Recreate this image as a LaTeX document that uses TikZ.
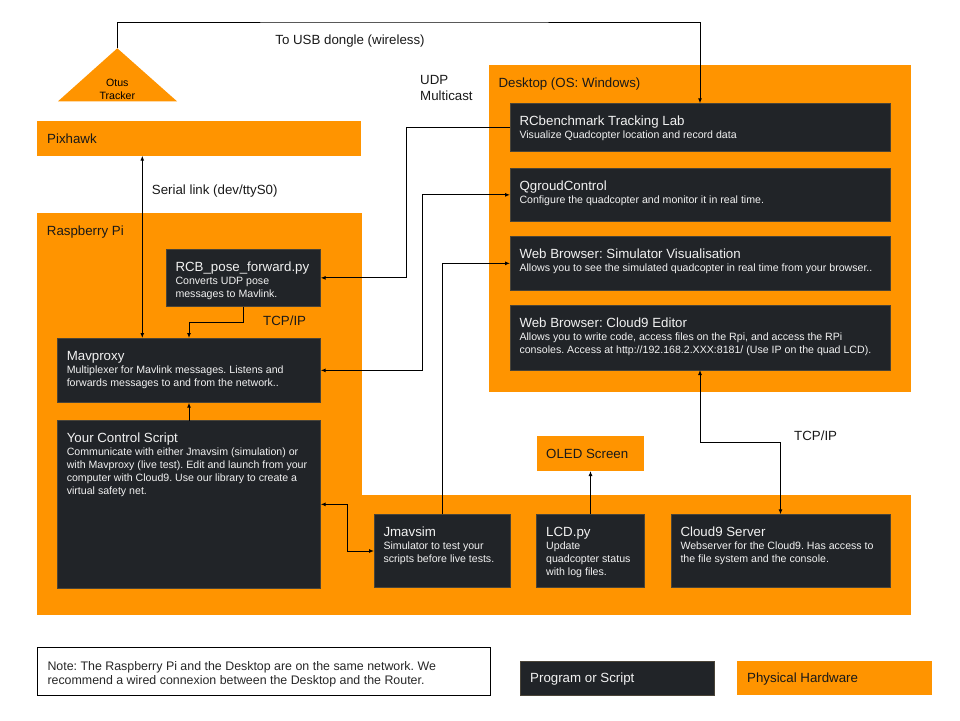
\documentclass[tikz,border=0pt]{standalone}
\usepackage{fontspec}
\setmainfont{Liberation Sans}
\usetikzlibrary{arrows.meta, calc}
\frenchspacing

\definecolor{hworange}{HTML}{FF9400}
\definecolor{progdark}{HTML}{212428}
\definecolor{progedge}{HTML}{4A4438}
\definecolor{progtext}{HTML}{F2F2F2}

\newcommand{\titlefont}{\fontsize{13.3}{13}\selectfont}
\newcommand{\descfont}{\fontsize{10.6}{13}\selectfont}
\newcommand{\lblfont}{\fontsize{13.3}{16}\selectfont}

\begin{document}
\begin{tikzpicture}[x=1pt, y=-1pt, >={Latex[length=5pt,width=4pt]},
    hw/.style={fill=hworange, inner sep=0pt, outer sep=0pt, anchor=north west},
    prog/.style={fill=progdark, draw=progedge, line width=0.5pt, inner sep=0pt, outer sep=0pt, anchor=north west},
    progtxt/.style={text=progtext, font=\descfont, align=left, inner sep=0pt, anchor=north west},
    lbl/.style={font=\lblfont, text=black!90, inner sep=0pt, anchor=base west},
    link/.style={line width=1pt}]
    \useasboundingbox (0,0) rectangle (960,720);

    % Physical hardware
    \node[hw, minimum width=422pt, minimum height=326.7pt] (desktop) at (489,65.3) {};
    \node[hw, minimum width=324.3pt, minimum height=34.7pt] (pixhawk) at (36.7,121) {};
    \node[hw, minimum width=325pt, minimum height=402pt] (rpi) at (36.7,213.3) {};
    \node[hw, minimum width=549pt, minimum height=120pt] (rpibar) at (361.7,495) {};
    \node[hw, minimum width=107pt, minimum height=35pt] (oled) at (537,436) {};
    \fill[hworange] (58,101.3) -- (117.3,48.3) -- (177,101.3) -- cycle;
    \coordinate (otus-top) at (117.3,48.3);
    \node[font=\descfont, align=center, inner sep=0pt, anchor=north] (otus) at (117.3,78.3)
        {\rule{0pt}{8pt}Otus\\Tracker};

    % Programs on the desktop
    \node[prog, minimum width=380pt, minimum height=48.4pt] (rcb) at (510,103.3) {};
    \node[prog, minimum width=380pt, minimum height=53.7pt] (qgc) at (510,168) {};
    \node[prog, minimum width=380pt, minimum height=53.3pt] (websim) at (510,236.7) {};
    \node[prog, minimum width=380pt, minimum height=65pt] (editor) at (510,305) {};

    % Programs on the Pi
    \node[prog, minimum width=154.7pt, minimum height=57.7pt] (rcbpose) at (166,249) {};
    \node[prog, minimum width=263.4pt, minimum height=64.7pt] (mavproxy) at (57.3,338) {};
    \node[prog, minimum width=263.4pt, minimum height=167.3pt] (script) at (57.3,420.7) {};
    \node[prog, minimum width=136.7pt, minimum height=73.4pt] (jmavsim) at (374,514.3) {};
    \node[prog, minimum width=107.6pt, minimum height=73.4pt] (lcd) at (536.7,514.3) {};
    \node[prog, minimum width=219pt, minimum height=73.4pt] (server) at (671,514.3) {};

    % Box texts
    \node[progtxt] (rcb-t) at ([xshift=9.3pt, yshift=-12pt]rcb.north west)
        {{\titlefont\rule{0pt}{10pt}RCbenchmark Tracking Lab}\\Visualize Quadcopter location and record data};
    \node[progtxt] (qgc-t) at ([xshift=9.3pt, yshift=-12pt]qgc.north west)
        {{\titlefont\rule{0pt}{10pt}QgroudControl}\\Configure the quadcopter and monitor it in real time.};
    \node[progtxt] (websim-t) at ([xshift=9.3pt, yshift=-12pt]websim.north west)
        {{\titlefont\rule{0pt}{10pt}Web Browser: Simulator Visualisation}\\Allows you to see the simulated quadcopter in real time from your browser..};
    \node[progtxt] (editor-t) at ([xshift=9.3pt, yshift=-12pt]editor.north west)
        {{\titlefont\rule{0pt}{10pt}Web Browser: Cloud9 Editor}\\Allows you to write code, access files on the Rpi, and access the RPi\\consoles. Access at http://192.168.2.XXX:8181/ (Use IP on the quad LCD).};
    \node[progtxt] (rcbpose-t) at ([xshift=9.3pt, yshift=-12pt]rcbpose.north west)
        {{\titlefont\rule{0pt}{10pt}RCB\_pose\_forward.py}\\Converts UDP pose\\messages to Mavlink.};
    \node[progtxt] (mavproxy-t) at ([xshift=9.3pt, yshift=-12pt]mavproxy.north west)
        {{\titlefont\rule{0pt}{10pt}Mavproxy}\\Multiplexer for Mavlink messages. Listens and\\forwards messages to and from the network..};
    \node[progtxt] (script-t) at ([xshift=9.3pt, yshift=-12pt]script.north west)
        {{\titlefont\rule{0pt}{10pt}Your Control Script}\\Communicate with either Jmavsim (simulation) or\\with Mavproxy (live test). Edit and launch from your\\computer with Cloud9. Use our library to create a\\virtual safety net.};
    \node[progtxt] (jmavsim-t) at ([xshift=9.3pt, yshift=-12pt]jmavsim.north west)
        {{\titlefont\rule{0pt}{10pt}Jmavsim}\\Simulator to test your\\scripts before live tests.};
    \node[progtxt] (lcd-t) at ([xshift=9.3pt, yshift=-12pt]lcd.north west)
        {{\titlefont\rule{0pt}{10pt}LCD.py}\\Update\\quadcopter status\\with log files.};
    \node[progtxt] (server-t) at ([xshift=9.3pt, yshift=-12pt]server.north west)
        {{\titlefont\rule{0pt}{10pt}Cloud9 Server}\\Webserver for the Cloud9. Has access to\\the file system and the console.};

    % Labels
    \node[lbl] (desktop-l) at (498.3,87.5) {Desktop (OS: Windows)};
    \node[lbl] (pixhawk-l) at (47,143) {Pixhawk};
    \node[lbl] (rpi-l) at (46.7,235.8) {Raspberry Pi};
    \node[lbl] (oled-l) at (546,458.5) {OLED Screen};
    \node[lbl, anchor=base] (usb-l) at (350,44) {To USB dongle (wireless)};
    \node[lbl, align=left, anchor=north west] (udp-l) at (420,73.8) {\rule{0pt}{10pt}UDP\\Multicast};
    \node[lbl] (serial-l) at (151.7,194) {Serial link (dev/ttyS0)};
    \node[lbl] (tcp-l) at (263,325) {TCP/IP};
    \node[lbl] (tcp2-l) at (794,440) {TCP/IP};

    % Connectors
    \coordinate (usb) at (400,22);
    \coordinate (serial) at ($(mavproxy.north)+(-46.7,0)$);
    \draw[link, ->] (otus-top) |- (usb) -| (rcb.north);
    \draw[link, <->] (serial) -- (serial |- pixhawk.south);
    \draw[link, ->] (rcb.west) -- ++(-103.3,0) |- (rcbpose.east);
    \draw[link, <->] (mavproxy.east) -- ++(102,0) |- (qgc.west);
    \draw[link, ->] (jmavsim.north) |- (websim.west);
    \draw[link, ->] (rcbpose.south) -- ++(0,15.6) -| (mavproxy.north);
    \draw[link, ->] (script.north) -- (mavproxy.south);
    \draw[link, <->] (script.east) -- ++(26.6,0) |- (jmavsim.west);
    \draw[link, ->] (lcd.north) -- (oled.south);
    \draw[link, <->] (editor.south) -- ++(0,72) -| (server.north);

    % Note and legend
    \node[draw=black, line width=1pt, inner sep=0pt, anchor=north west,
        minimum width=453.3pt, minimum height=48pt] (note) at (36.7,647) {};
    \node[font=\fontsize{12.4}{14.5}\selectfont, text=black!85, align=left, inner sep=0pt, anchor=north west]
        (note-t) at (47.3,660) {\rule{0pt}{10pt}Note: The Raspberry Pi and the Desktop are on the same network. We\\recommend a wired connexion between the Desktop and the Router.};
    \node[prog, minimum width=194pt, minimum height=34pt] (legprog) at (520,661) {};
    \node[hw, minimum width=195pt, minimum height=34pt] (leghw) at (737,661) {};
    \node[lbl, text=progtext] (legprog-l) at (530,682.5) {Program or Script};
    \node[lbl] (leghw-l) at (747,682.5) {Physical Hardware};
\end{tikzpicture}
\end{document}
